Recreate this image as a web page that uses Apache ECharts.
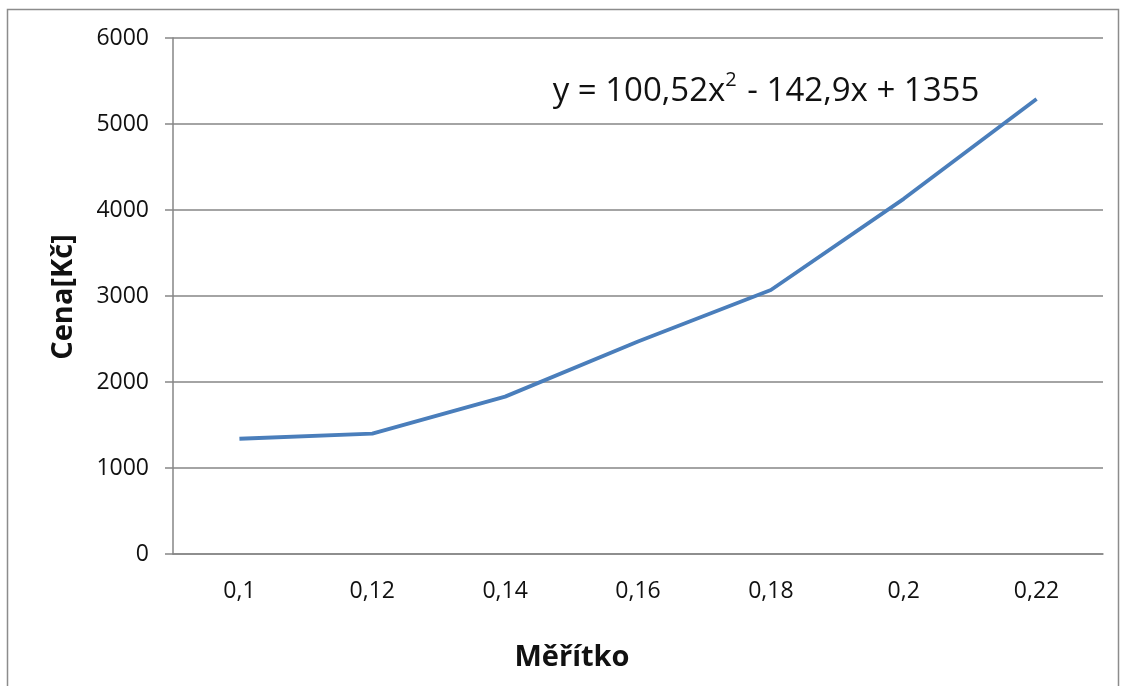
<!DOCTYPE html>
<html>
<head>
<meta charset="utf-8">
<title>Cena podle měřítka</title>
<script src="https://cdn.jsdelivr.net/npm/echarts@6/dist/echarts.min.js"></script>
<style>
  html, body { margin: 0; padding: 0; background: #fff; }
  #chart { width: 1122px; height: 686px; }
</style>
</head>
<body>
<div id="chart"></div>
<script>
// Scale categories and price for each scale
const scales = ['0,1', '0,12', '0,14', '0,16', '0,18', '0,2', '0,22'];
const prices = [1340, 1400, 1830, 2470, 3070, 4130, 5290];
const yTicks = { min: 0, max: 6000, step: 1000 };

const FONT = '"Open Sans", "Liberation Sans", sans-serif';
const GREY = '#868686';

const chart = echarts.init(document.getElementById('chart'), null, { renderer: 'canvas' });

chart.setOption({
  backgroundColor: '#ffffff',
  animation: false,
  grid: { left: 173, right: 19, top: 38, bottom: 132 },
  xAxis: {
    type: 'category',
    data: scales,
    boundaryGap: true,
    axisLine: { show: true, lineStyle: { color: GREY, width: 1.5 } },
    axisTick: { show: false },
    axisLabel: { color: '#111', fontFamily: FONT, fontSize: 23, margin: 26 },
    splitLine: { show: false }
  },
  yAxis: {
    type: 'value',
    min: yTicks.min,
    max: yTicks.max,
    interval: yTicks.step,
    axisLine: { show: true, lineStyle: { color: GREY, width: 1.5 } },
    axisTick: { show: true, inside: false, length: 8, lineStyle: { color: GREY, width: 1.5 } },
    axisLabel: {
      color: '#111', fontFamily: FONT, fontSize: 23, margin: 24,
      formatter: (v) => String(v)
    },
    splitLine: { show: true, lineStyle: { color: GREY, width: 1.5 } }
  },
  series: [{
    type: 'line',
    data: prices,
    symbol: 'none',
    lineStyle: { color: '#4A7EBB', width: 3.8 },
    itemStyle: { color: '#4A7EBB' }
  }],
  graphic: [
    {
      type: 'rect',
      shape: { x: 7.5, y: 9.5, width: 1111, height: 700 },
      style: { fill: 'none', stroke: '#8c8c8c', lineWidth: 1.5 },
      silent: true
    },
    {
      type: 'text',
      x: 64, y: 297,
      rotation: Math.PI / 2,
      style: {
        text: 'Cena[Kč]',
        fontFamily: FONT, fontSize: 29, fontWeight: 'bold',
        fill: '#111', align: 'center', verticalAlign: 'middle'
      }
    },
    {
      type: 'text',
      x: 572, y: 658,
      style: {
        text: 'Měřítko',
        fontFamily: FONT, fontSize: 29, fontWeight: 'bold',
        fill: '#111', align: 'center', verticalAlign: 'middle'
      }
    },
    {
      type: 'text',
      x: 766, y: 88,
      style: {
        text: '{a|y = 100,52x}{s|2}{a| - 142,9x + 1355}',
        align: 'center', verticalAlign: 'middle',
        rich: {
          a: { fontFamily: FONT, fontSize: 33, fill: '#111', lineHeight: 40, verticalAlign: 'bottom' },
          s: { fontFamily: FONT, fontSize: 20, fill: '#111', lineHeight: 40, verticalAlign: 'top', padding: [2, 2, 0, 0] }
        }
      }
    }
  ]
});
</script>
</body>
</html>
